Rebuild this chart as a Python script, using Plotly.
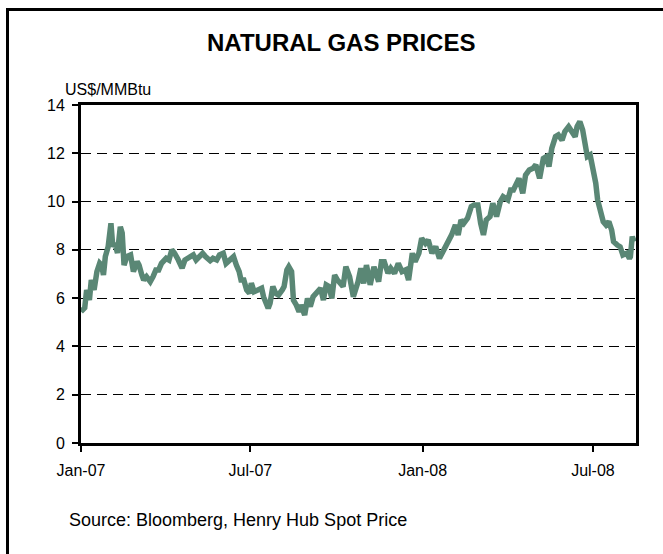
import plotly.graph_objects as go

# ---- data ----
dates = [
    "2007-01-01", "2007-01-05", "2007-01-07", "2007-01-10", "2007-01-12", "2007-01-15", "2007-01-18",
    "2007-01-21", "2007-01-23", "2007-01-25", "2007-01-27", "2007-01-30", "2007-02-02", "2007-02-04",
    "2007-02-06", "2007-02-09", "2007-02-12", "2007-02-14", "2007-02-16", "2007-02-19", "2007-02-23",
    "2007-02-26", "2007-03-02", "2007-03-04", "2007-03-07", "2007-03-09", "2007-03-12", "2007-03-16",
    "2007-03-19", "2007-03-22", "2007-03-25", "2007-03-28", "2007-04-02", "2007-04-05", "2007-04-08",
    "2007-04-11", "2007-04-15", "2007-04-19", "2007-04-22", "2007-04-26", "2007-05-01", "2007-05-04",
    "2007-05-07", "2007-05-11", "2007-05-14", "2007-05-19", "2007-05-22", "2007-05-26", "2007-05-29",
    "2007-06-02", "2007-06-05", "2007-06-10", "2007-06-13", "2007-06-16", "2007-06-19", "2007-06-21",
    "2007-06-24", "2007-06-27", "2007-06-30", "2007-07-02", "2007-07-05", "2007-07-09", "2007-07-13",
    "2007-07-15", "2007-07-18", "2007-07-20", "2007-07-22", "2007-07-25", "2007-07-28", "2007-07-31",
    "2007-08-04", "2007-08-06", "2007-08-09", "2007-08-11", "2007-08-14", "2007-08-16", "2007-08-19",
    "2007-08-22", "2007-08-24", "2007-08-28", "2007-08-31", "2007-09-03", "2007-09-06", "2007-09-10",
    "2007-09-14", "2007-09-17", "2007-09-20", "2007-09-23", "2007-09-26", "2007-09-29", "2007-10-02",
    "2007-10-08", "2007-10-11", "2007-10-15", "2007-10-19", "2007-10-24", "2007-10-27", "2007-10-30",
    "2007-11-02", "2007-11-06", "2007-11-10", "2007-11-15", "2007-11-18", "2007-11-21", "2007-11-25",
    "2007-11-28", "2007-12-02", "2007-12-06", "2007-12-10", "2007-12-14", "2007-12-17", "2007-12-21",
    "2007-12-24", "2007-12-28", "2007-12-31",
    "2008-01-04", "2008-01-07", "2008-01-11", "2008-01-15", "2008-01-19", "2008-01-22", "2008-01-26",
    "2008-01-29", "2008-02-01", "2008-02-05", "2008-02-08", "2008-02-11", "2008-02-14", "2008-02-18",
    "2008-02-22", "2008-02-25", "2008-02-29", "2008-03-03", "2008-03-06", "2008-03-09", "2008-03-13",
    "2008-03-16", "2008-03-20", "2008-03-24", "2008-03-27", "2008-04-01", "2008-04-04", "2008-04-07",
    "2008-04-10", "2008-04-13", "2008-04-17", "2008-04-20", "2008-04-24", "2008-04-28", "2008-05-01",
    "2008-05-05", "2008-05-09", "2008-05-12", "2008-05-15", "2008-05-18", "2008-05-22", "2008-05-25",
    "2008-05-29", "2008-06-01", "2008-06-05", "2008-06-08", "2008-06-12", "2008-06-14", "2008-06-17",
    "2008-06-20", "2008-06-23", "2008-06-25", "2008-06-28", "2008-07-01", "2008-07-04", "2008-07-06",
    "2008-07-09", "2008-07-12", "2008-07-15", "2008-07-18", "2008-07-21", "2008-07-23", "2008-07-27",
    "2008-07-30", "2008-08-02", "2008-08-06", "2008-08-09", "2008-08-10", "2008-08-12", "2008-08-14",
]
prices = [
    5.44, 5.60, 6.34, 5.92, 6.75, 6.34, 7.10,
    7.45, 7.37, 6.96, 7.72, 8.13, 9.10, 8.13,
    8.28, 7.87, 8.96, 8.70, 7.37, 7.72, 7.79,
    7.10, 7.51, 7.37, 6.96, 6.75, 6.89, 6.68,
    6.89, 7.17, 7.17, 7.44, 7.65, 7.58, 8.00,
    7.86, 7.58, 7.24, 7.58, 7.65, 7.79, 7.58,
    7.72, 7.86, 7.72, 7.55, 7.65, 7.58, 7.79,
    7.86, 7.44, 7.58, 7.72, 7.37, 7.10, 6.75,
    6.75, 6.34, 6.20, 6.62, 6.27, 6.34, 6.41,
    6.06, 5.79, 5.58, 5.79, 6.48, 6.20, 6.13,
    6.34, 6.48, 7.17, 7.30, 7.10, 5.92, 5.72,
    5.44, 5.72, 5.30, 5.99, 5.65, 6.06, 6.27,
    6.41, 5.92, 6.55, 6.48, 5.99, 6.96, 6.75,
    6.48, 7.30, 6.89, 6.06, 6.68, 7.24, 6.61,
    7.37, 6.55, 7.30, 6.68, 7.51, 7.51, 7.03,
    7.24, 7.03, 7.44, 7.10, 7.17, 6.75, 7.86,
    7.51, 7.86, 8.48,
    8.27, 8.41, 7.86, 8.13, 7.65, 7.86, 8.13,
    8.41, 8.62, 9.03, 8.62, 9.24, 9.10, 9.31,
    9.79, 9.86, 9.86, 9.10, 8.62, 9.24, 9.38,
    9.93, 9.38, 10.00, 10.20, 10.07, 10.48, 10.48,
    10.69, 10.96, 10.34, 11.10, 11.31, 11.38, 11.52,
    10.96, 11.79, 11.86, 11.45, 12.20, 12.69, 12.76,
    12.55, 12.90, 13.10, 12.90, 12.69, 13.10, 13.31,
    12.97, 12.27, 11.86, 11.93, 11.45, 10.76, 10.07,
    9.52, 9.17, 9.03, 9.17, 8.82, 8.34, 8.20,
    8.13, 7.79, 7.86, 7.65, 7.72, 8.55, 8.34,
]
tick_dates = ["2007-01-01", "2007-07-01", "2008-01-01", "2008-07-01"]
tick_labels = ["Jan-07", "Jul-07", "Jan-08", "Jul-08"]
y_ticks = [0, 2, 4, 6, 8, 10, 12, 14]

# ---- layout geometry ----
W, H = 663, 554
ML, MR, MT, MB = 81, 27, 105, 111
PW, PH = W - ML - MR, H - MT - MB


def px(x):
    return (x - ML) / PW


def py(y):
    return (H - MB - y) / PH


FONT = "Liberation Sans, Arial, sans-serif"

fig = go.Figure()
fig.add_trace(go.Scatter(
    x=dates, y=prices, mode="lines",
    line=dict(color="#5A8775", width=5.5),
    showlegend=False, hoverinfo="x+y",
))

fig.update_layout(
    width=W, height=H,
    margin=dict(l=ML, r=MR, t=MT, b=MB),
    paper_bgcolor="white", plot_bgcolor="white",
    font=dict(family=FONT, size=16, color="black"),
    showlegend=False,
)

fig.update_xaxes(
    type="date", range=["2007-01-01", "2008-08-16"],
    tickvals=tick_dates, ticktext=tick_labels,
    ticks="outside", ticklen=6, tickwidth=2, tickcolor="black",
    showline=True, linecolor="black", linewidth=3, mirror=True,
    showgrid=False, zeroline=False,
    tickfont=dict(family=FONT, size=16, color="black"),
    ticklabelstandoff=5,
)
fig.update_yaxes(
    range=[0, 14], tickvals=y_ticks,
    ticks="outside", ticklen=6, tickwidth=1.5, tickcolor="black",
    showline=True, linecolor="black", linewidth=3, mirror=True,
    showgrid=True, gridcolor="black", gridwidth=1, griddash="10px,6px",
    zeroline=False,
    tickfont=dict(family=FONT, size=16, color="black"),
    ticklabelstandoff=4,
)

# outer frame (extends beyond the right/bottom edge as in the reference)
fig.add_shape(type="rect", xref="paper", yref="paper",
              x0=px(7.5), x1=px(W + 20), y0=py(H + 20), y1=py(9.5),
              line=dict(color="black", width=3), fillcolor="rgba(0,0,0,0)", layer="below")

fig.add_annotation(text="<b>NATURAL GAS PRICES</b>", xref="paper", yref="paper",
                   x=px(341), y=py(42), xanchor="center", yanchor="middle",
                   showarrow=False, font=dict(family=FONT, size=24, color="black"))
fig.add_annotation(text="US$/MMBtu", xref="paper", yref="paper",
                   x=px(63), y=py(89), xanchor="left", yanchor="middle",
                   showarrow=False, font=dict(family=FONT, size=16, color="black"))
fig.add_annotation(text="Source: Bloomberg, Henry Hub Spot Price", xref="paper", yref="paper",
                   x=px(67), y=py(520), xanchor="left", yanchor="middle",
                   showarrow=False, font=dict(family=FONT, size=18, color="black"))

fig.write_html("out.html", config={"displayModeBar": False},
               post_script="document.body.style.margin='0';")
